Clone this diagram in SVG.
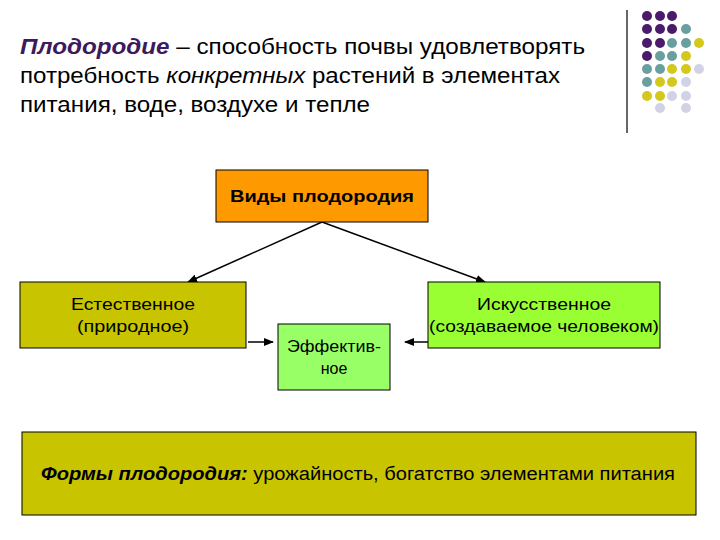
<svg xmlns="http://www.w3.org/2000/svg" width="720" height="540" viewBox="0 0 720 540">
<style>
text{font-family:"Liberation Sans",Arial,sans-serif;fill:#000}
.b{stroke:#000;stroke-width:1}
.c{stroke:#000;stroke-width:1.5;fill:none}
.P{fill:#4b1a6b}.T{fill:#6a9fa0}.Y{fill:#d4c81e}.L{fill:#d2d2e6}
</style>
<defs><marker id="a" markerWidth="10" markerHeight="8" refX="9" refY="4" orient="auto" markerUnits="userSpaceOnUse"><path d="M0,0 L10,4 L0,8 Z" fill="#000"/></marker></defs>
<rect width="720" height="540" fill="#fff"/>
<g id="title" font-size="22">
<text x="20" y="54" textLength="565" lengthAdjust="spacingAndGlyphs"><tspan font-style="italic" font-weight="bold" fill="#3d1a5e">Плодородие</tspan> – способность почвы удовлетворять</text>
<text x="20" y="83" textLength="540" lengthAdjust="spacingAndGlyphs">потребность <tspan font-style="italic">конкретных</tspan> растений в элементах</text>
<text x="20" y="112" textLength="350" lengthAdjust="spacingAndGlyphs">питания, воде, воздухе и тепле</text>
</g>
<g id="deco">
<line x1="627" y1="10" x2="627" y2="133" stroke="#000" stroke-width="1.2"/>
<g>
<circle class="P" cx="647" cy="16" r="5"/><circle class="P" cx="660" cy="16" r="5"/><circle class="P" cx="672" cy="16" r="5"/>
<circle class="P" cx="647" cy="29" r="5"/><circle class="P" cx="660" cy="29" r="5"/><circle class="P" cx="672" cy="29" r="5"/><circle class="T" cx="686" cy="29" r="5"/>
<circle class="P" cx="647" cy="43" r="5"/><circle class="P" cx="660" cy="43" r="5"/><circle class="T" cx="672" cy="43" r="5"/><circle class="T" cx="686" cy="43" r="5"/><circle class="Y" cx="699" cy="43" r="5"/>
<circle class="P" cx="647" cy="56" r="5"/><circle class="T" cx="660" cy="56" r="5"/><circle class="T" cx="672" cy="56" r="5"/><circle class="Y" cx="686" cy="56" r="5"/>
<circle class="T" cx="647" cy="69" r="5"/><circle class="T" cx="660" cy="69" r="5"/><circle class="Y" cx="672" cy="69" r="5"/><circle class="Y" cx="686" cy="69" r="5"/><circle class="L" cx="699" cy="69" r="5"/>
<circle class="T" cx="647" cy="82" r="5"/><circle class="Y" cx="660" cy="82" r="5"/><circle class="Y" cx="672" cy="82" r="5"/><circle class="L" cx="686" cy="82" r="5"/>
<circle class="Y" cx="647" cy="96" r="5"/><circle class="Y" cx="660" cy="96" r="5"/><circle class="L" cx="672" cy="96" r="5"/><circle class="L" cx="686" cy="96" r="5"/>
<circle class="L" cx="660" cy="108" r="5"/><circle class="L" cx="686" cy="108" r="5"/>
</g>
</g>
<g id="connectors">
<line class="c" x1="322" y1="222" x2="188" y2="282" marker-end="url(#a)"/>
<line class="c" x1="322" y1="222" x2="485" y2="282" marker-end="url(#a)"/>
<line class="c" x1="248" y1="342" x2="273" y2="342" marker-end="url(#a)"/>
<line class="c" x1="428" y1="342" x2="405" y2="342" marker-end="url(#a)"/>
</g>
<g id="n-top"><rect class="b" x="216" y="170" width="212" height="52" fill="#ff9900"/><text x="322" y="202" text-anchor="middle" font-size="17" font-weight="bold" textLength="184" lengthAdjust="spacingAndGlyphs">Виды плодородия</text></g>
<g id="n-left"><rect class="b" x="20" y="282" width="226" height="66" fill="#c8c400"/><text x="133" y="310" text-anchor="middle" font-size="17" textLength="124" lengthAdjust="spacingAndGlyphs">Естественное</text><text x="133" y="332" text-anchor="middle" font-size="17" textLength="112" lengthAdjust="spacingAndGlyphs">(природное)</text></g>
<g id="n-right"><rect class="b" x="428" y="282" width="232" height="66" fill="#99ff33"/><text x="544" y="310" text-anchor="middle" font-size="17" textLength="134" lengthAdjust="spacingAndGlyphs">Искусственное</text><text x="544" y="332" text-anchor="middle" font-size="17" textLength="230" lengthAdjust="spacingAndGlyphs">(создаваемое человеком)</text></g>
<g id="n-mid"><rect class="b" x="278" y="324" width="112" height="66" fill="#99ff66"/><text x="334" y="352" text-anchor="middle" font-size="16" textLength="94" lengthAdjust="spacingAndGlyphs">Эффектив-</text><text x="334" y="374" text-anchor="middle" font-size="16">ное</text></g>
<g id="n-bottom"><rect class="b" x="22" y="432" width="674" height="83" fill="#c8c400"/><text x="358" y="480" text-anchor="middle" font-size="18" textLength="634" lengthAdjust="spacingAndGlyphs"><tspan font-weight="bold" font-style="italic">Формы плодородия:</tspan> урожайность, богатство элементами питания</text></g>
</svg>
